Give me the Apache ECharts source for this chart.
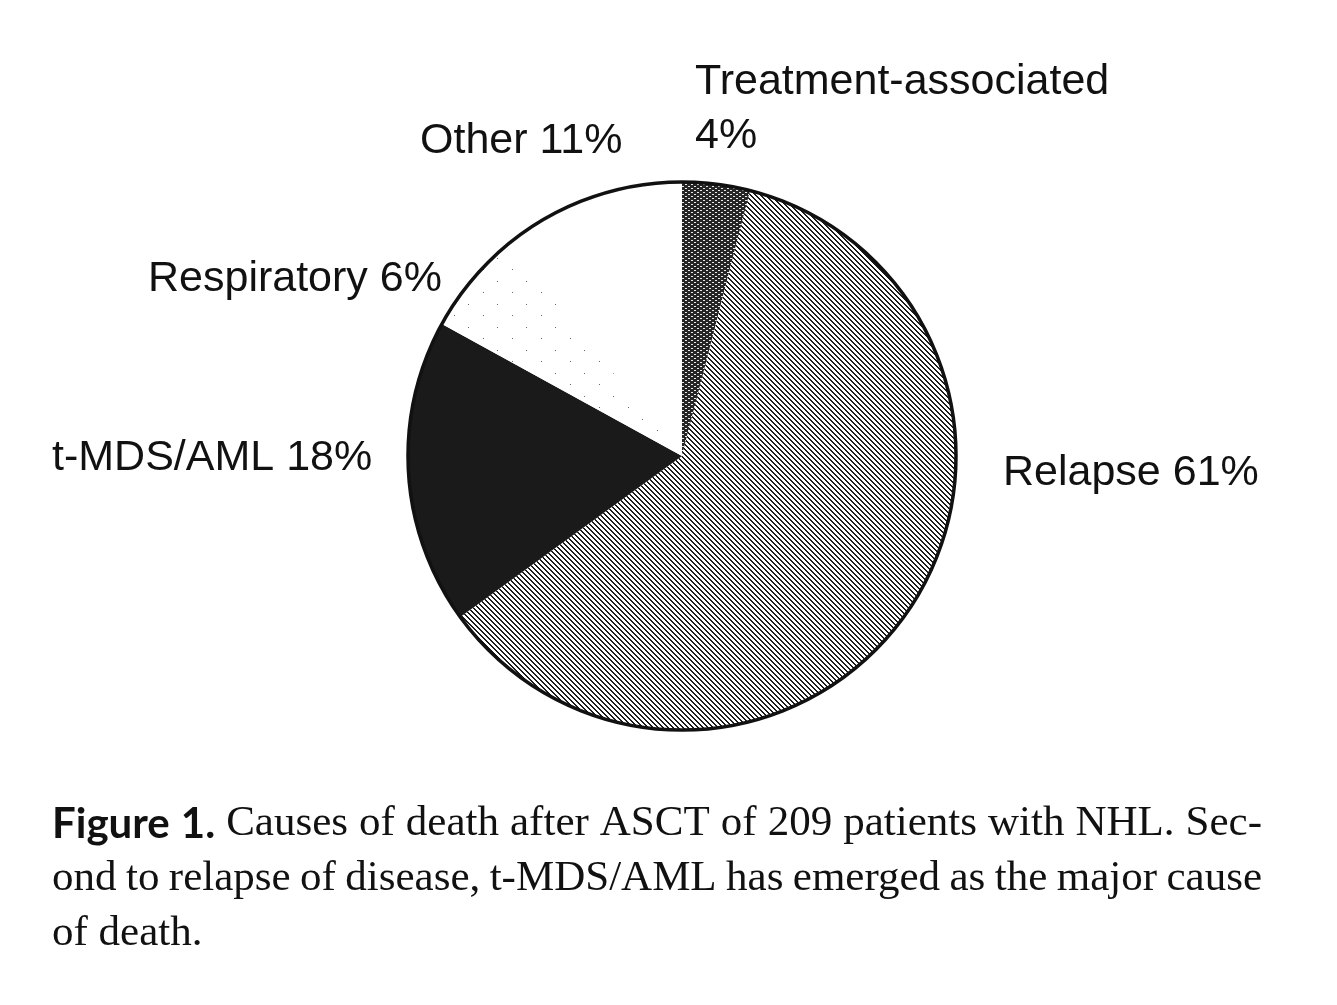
<!DOCTYPE html>
<html><head><meta charset="utf-8">
<script src="https://cdn.jsdelivr.net/npm/echarts@6/dist/echarts.min.js"></script>
<style>html,body{margin:0;padding:0;background:#fff}#chart{width:1337px;height:1005px}</style>
</head><body><div id="chart"></div>
<script>
// ---- data ----
const categories = ['Treatment-associated', 'Relapse', 't-MDS/AML', 'Respiratory', 'Other'];
const values = [4, 61, 18, 6, 11];
const captionLead = ['Figure', '1.'];
const captionLines = [
  'Causes of death after ASCT of 209 patients with NHL. Sec-',
  'ond to relapse of disease, t-MDS/AML has emerged as the major cause',
  'of death.'
];

// ---- layout / style ----
const CX = 682, CY = 456, R = 274;
const labelFont = '"Liberation Sans", Arial, sans-serif';
const labelSize = 43;
const labelPos = {
  'Treatment-associated': { x: 695, y: 82, wrap: true, dy: 54 },
  'Other': { x: 420, y: 141 },
  'Respiratory': { x: 148, y: 279 },
  't-MDS/AML': { x: 52, y: 458 },
  'Relapse': { x: 1003, y: 473 }
};

function tile(w, h, bg, fn) {
  const c = document.createElement('canvas');
  c.width = w; c.height = h;
  const g = c.getContext('2d');
  if (bg) { g.fillStyle = bg; g.fillRect(0, 0, w, h); }
  fn(g);
  return c;
}
const hatch = tile(5, 5, '#ffffff', g => {
  g.fillStyle = '#1c1c1c';
  for (let x = 0; x < 5; x++) for (let y = 0; y < 5; y++) {
    if (((x - y) % 5 + 5) % 5 < 2) g.fillRect(x, y, 1, 1);
  }
});
const mesh = tile(6, 4, '#262626', g => {
  g.fillStyle = '#e8e8e8';
  g.fillRect(1, 0, 2, 1);
  g.fillRect(4, 2, 2, 1);
});
const dots = tile(29, 23, '#ffffff', g => {
  g.fillStyle = '#666';
  g.fillRect(4, 5, 1, 1);
  g.fillRect(19, 16, 1, 1);
});
const fills = {
  'Treatment-associated': { image: mesh, repeat: 'repeat' },
  'Relapse': { image: hatch, repeat: 'repeat' },
  't-MDS/AML': '#1a1a1a',
  'Respiratory': { image: dots, repeat: 'repeat' },
  'Other': '#ffffff'
};

// ---- labels ----
const graphics = [];
categories.forEach((name, i) => {
  const p = labelPos[name];
  const pct = values[i] + '%';
  const lines = p.wrap ? [name, pct] : [name + ' ' + pct];
  lines.forEach((t, k) => {
    graphics.push({
      type: 'text', x: p.x, y: p.y + k * (p.dy || 0), silent: true,
      style: { text: t, fill: '#111', font: labelSize + 'px ' + labelFont, align: 'left', verticalAlign: 'middle' }
    });
  });
});

// ---- caption (justified) ----
const meas = document.createElement('canvas').getContext('2d');
const serifSize = 43;
const serifFont = serifSize + 'px "Liberation Serif", "Times New Roman", serif';
const boldFont = 'bold 42px Lato, "Open Sans", sans-serif';
const capLeft = 52, capRight = 1262, baselines = [845, 900, 955];
captionLines.forEach((line, li) => {
  let words = line.split(' ').map(w => ({ t: w, f: serifFont }));
  if (li === 0) words = captionLead.map(w => ({ t: w, f: boldFont })).concat(words);
  words.forEach(w => { meas.font = w.f; w.w = meas.measureText(w.t).width; });
  const total = words.reduce((s, w) => s + w.w, 0);
  meas.font = serifFont;
  const normalGap = meas.measureText(' ').width;
  const justify = li < captionLines.length - 1;
  const gap = justify ? (capRight - capLeft - total) / (words.length - 1) : normalGap;
  let x = capLeft;
  words.forEach(w => {
    graphics.push({
      type: 'text', x: x, y: baselines[li], silent: true,
      style: { text: w.t, fill: '#111', font: w.f, align: 'left', verticalAlign: 'bottom' }
    });
    x += w.w + gap;
  });
});

const chart = echarts.init(document.getElementById('chart'), null, { renderer: 'canvas' });
chart.setOption({
  backgroundColor: '#ffffff',
  animation: false,
  series: [
    {
      type: 'pie',
      center: [CX, CY],
      radius: [0, R],
      startAngle: 90,
      clockwise: true,
      silent: true,
      label: { show: false },
      labelLine: { show: false },
      emphasis: { disabled: true },
      data: categories.map((name, i) => ({
        name: name, value: values[i],
        itemStyle: { color: fills[name], borderWidth: 0 }
      }))
    },
    {
      type: 'pie',
      center: [CX, CY],
      radius: [0, R],
      silent: true,
      label: { show: false },
      labelLine: { show: false },
      emphasis: { disabled: true },
      data: [{ value: 1, itemStyle: { color: 'rgba(0,0,0,0)', borderColor: '#111', borderWidth: 3.5 } }]
    }
  ],
  graphic: graphics
});
</script>
</body></html>
